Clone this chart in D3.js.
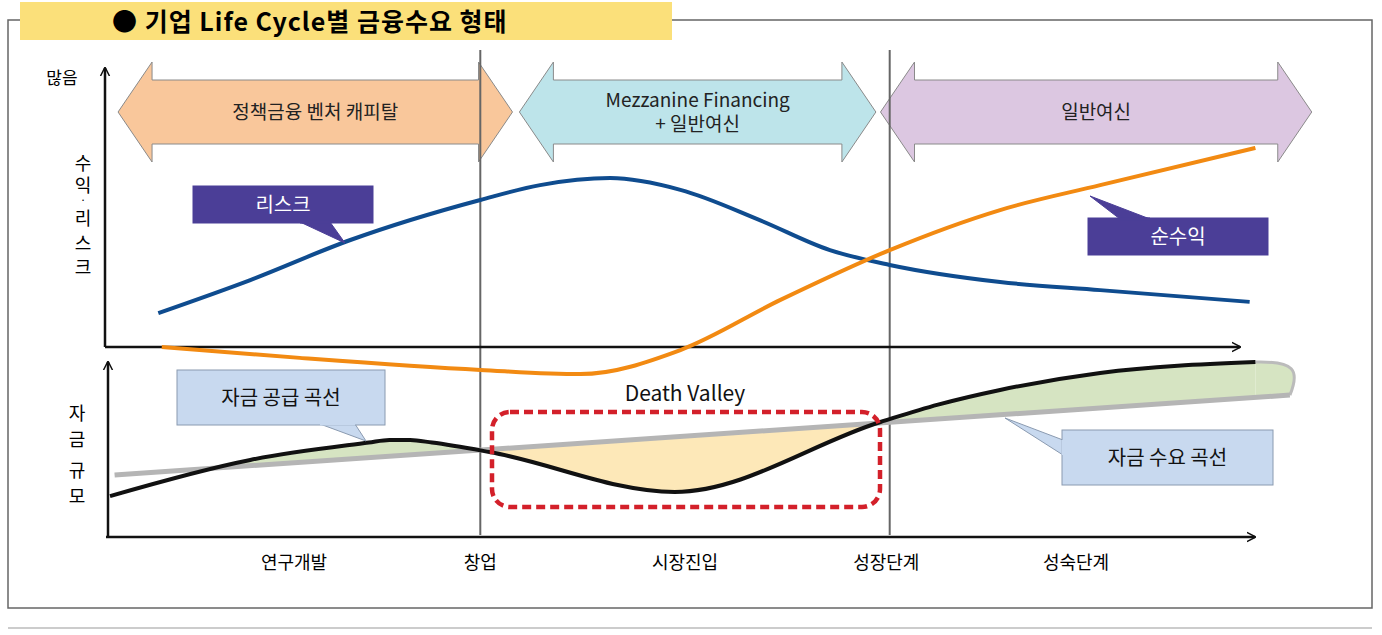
<!DOCTYPE html><html><head><meta charset="utf-8"><script src="https://cdn.jsdelivr.net/npm/d3@7"></script>
<style>body{margin:0;background:#fff}text{font-family:"Noto Sans CJK KR","Noto Sans",sans-serif}</style></head><body><svg id="c" width="1382" height="635"></svg>
<script>
// data (x: 0-100 life-cycle position; y: 0-100 relative level)
const stages=["연구개발","창업","시장진입","성장단계","성숙단계"];
const stageX=[16,32.2,50,67.5,84];
const riskX=[4.2,12.2,20.9,32.2,37.4,43.5,49.6,56.5,62.6,67.8,77.4,86.1,99.1];
const riskY=[11.4,23.2,37.5,51.8,57.1,59.6,55.4,44.6,33.9,28.6,22.5,19.6,15.4];
const profitX=[4.5,16.5,32.2,40.9,49.6,58.3,67.8,77.4,86.1,99.6];
const profitY=[-0.7,-4.6,-8.9,-10.4,-1.8,16.1,33.9,48.2,57.1,70.4];
const supplyX=[0,12.2,22.5,24.3,26.1,28,33,49.1,67,72,77.4,86.1,99.6];
const supplyY=[23.6,45.5,56,57.6,57.6,56,50.3,26.1,68.5,79,87.9,98.2,104.8];
const demandX=[0.4,102.6];
const demandY=[36.4,84.8];
const phases=["정책금융 벤처 캐피탈","Mezzanine Financing\n+ 일반여신","일반여신"];
const phaseX=[[0.7,35],[35.6,66.6],[67,104.5]];
const dividers=[32.2,67.8];

const svg=d3.select("#c");
const x=d3.scaleLinear().domain([0,100]).range([110,1260]);
const yU=d3.scaleLinear().domain([0,100]).range([345,65]);
const yL=d3.scaleLinear().domain([0,100]).range([535,370]);
const defs=svg.append("defs");
defs.append("marker").attr("id","ah").attr("viewBox","0 0 10 10").attr("refX",9).attr("refY",5).attr("markerWidth",9).attr("markerHeight",12).attr("orient","auto").attr("markerUnits","userSpaceOnUse")
 .append("path").attr("d","M0,0L10,5L0,10").attr("fill","none").attr("stroke","#111").attr("stroke-width",1.6);

// frame
svg.append("rect").attr("x",8).attr("y",20).attr("width",1364).attr("height",588).attr("fill","none").attr("stroke","#666").attr("stroke-width",1.5);
svg.append("line").attr("x1",8).attr("x2",1372).attr("y1",628).attr("y2",628).attr("stroke","#999");
svg.append("rect").attr("x",20).attr("y",2).attr("width",652).attr("height",38).attr("fill","#fbe07a");
svg.append("text").attr("x",112).attr("y",31).attr("font-size",25).attr("font-weight","bold").attr("letter-spacing",1).text("●  기업 Life Cycle별 금융수요 형태");

// phase arrows
const cols=["#f9c79b","#bde4ea","#dcc7e1"];
phaseX.forEach((p,i)=>{
 const a=x(p[0]),b=x(p[1]),h=34,t=62,bt=80,bb=144,bo=162,m=112;
 svg.append("path").attr("d",`M${a},${m}L${a+h},${t}L${a+h},${bt}L${b-h},${bt}L${b-h},${t}L${b},${m}L${b-h},${bo}L${b-h},${bb}L${a+h},${bb}L${a+h},${bo}Z`)
  .attr("fill",cols[i]).attr("stroke","#8a8a8a").attr("stroke-width",1);
 const lines=phases[i].split("\n");
 lines.forEach((l,j)=>svg.append("text").attr("x",(a+b)/2).attr("y",m+7+(j-(lines.length-1)/2)*24).attr("text-anchor","middle").attr("font-size",19).attr("fill","#222").text(l));
});
dividers.forEach(d=>svg.append("line").attr("x1",x(d)).attr("x2",x(d)).attr("y1",50).attr("y2",535).attr("stroke","#666").attr("stroke-width",2));

const ax=(x1,y1,x2,y2)=>svg.append("line").attr("x1",x1).attr("y1",y1).attr("x2",x2).attr("y2",y2).attr("stroke","#111").attr("stroke-width",2.5).attr("marker-end","url(#ah)");
ax(105,347,105,68);ax(105,347,1240,347);ax(108,537,108,362);ax(106,537,1255,537);

const line=(X,Y,ys)=>d3.line().curve(d3.curveMonotoneX).x((d,i)=>x(X[i])).y((d,i)=>ys(Y[i]))(X);
const dem=v=>demandY[0]+(v-demandX[0])*(demandY[1]-demandY[0])/(demandX[1]-demandX[0]);
const area=d3.area().curve(d3.curveMonotoneX).x((d,i)=>x(supplyX[i])).y1((d,i)=>yL(supplyY[i])).y0((d,i)=>yL(dem(supplyX[i])));
[["g1",x(9.5),x(33)],["y1",x(33),x(67.3)],["g2",x(67.3),x(100)]].forEach(([id,a,b])=>{
 defs.append("clipPath").attr("id",id).append("rect").attr("x",a).attr("y",300).attr("width",b-a).attr("height",300);
 svg.append("path").attr("d",area(supplyX)).attr("fill",id[0]=="y"?"#fde8b8":"#d6e4c2").attr("clip-path",`url(#${id})`);
});
svg.append("path").attr("d",`M${x(99.6)},${yL(104.8)} C${x(103)},${yL(105.5)} ${x(103.5)},${yL(100)} ${x(102.6)},${yL(84.8)} L${x(99.6)},${yL(dem(99.6))}Z`).attr("fill","#d6e4c2");
svg.append("path").attr("d",`M${x(99.6)},${yL(104.8)} C${x(103)},${yL(105.5)} ${x(103.5)},${yL(100)} ${x(102.6)},${yL(84.8)}`).attr("fill","none").attr("stroke","#bbb").attr("stroke-width",3);
svg.append("line").attr("x1",x(demandX[0])).attr("y1",yL(demandY[0])).attr("x2",x(demandX[1])).attr("y2",yL(demandY[1])).attr("stroke","#b5b5b5").attr("stroke-width",5);
svg.append("path").attr("d",line(supplyX,supplyY,yL)).attr("fill","none").attr("stroke","#111").attr("stroke-width",4);

svg.append("path").attr("d",line(riskX,riskY,yU)).attr("fill","none").attr("stroke","#0f4c8f").attr("stroke-width",4);
svg.append("path").attr("d",line(profitX,profitY,yU)).attr("fill","none").attr("stroke","#f28a12").attr("stroke-width",4);

svg.append("rect").attr("x",492).attr("y",412).attr("width",388).attr("height",95).attr("rx",18).attr("fill","none").attr("stroke","#d3202a").attr("stroke-width",4.5).attr("stroke-dasharray","9,5");
svg.append("text").attr("x",685).attr("y",401).attr("text-anchor","middle").attr("font-size",21).attr("fill","#111").text("Death Valley");

const call=(bx,by,bw,bh,tail,fill,stroke,txt,tc)=>{
 svg.append("path").attr("d",`M${tail[0]},${tail[1]}L${tail[2]},${tail[3]}L${tail[4]},${tail[5]}Z`).attr("fill",fill).attr("stroke",stroke);
 svg.append("rect").attr("x",bx).attr("y",by).attr("width",bw).attr("height",bh).attr("fill",fill).attr("stroke",stroke);
 svg.append("path").attr("d",`M${tail[0]},${tail[1]}L${tail[4]},${tail[5]}`).attr("stroke",fill).attr("stroke-width",3);
 svg.append("text").attr("x",bx+bw/2).attr("y",by+bh/2+7).attr("text-anchor","middle").attr("font-size",20).attr("fill",tc).text(txt);
};
call(193,186,180,37,[300,222,345,243,330,222],"#4b3e97","#4b3e97","리스크","#fff");
call(1088,218,180,37,[1120,219,1090,196,1150,219],"#4b3e97","#4b3e97","순수익","#fff");
call(177,370,208,55,[320,424,366,441,355,424],"#c8d9ef","#8a9ab0","자금 공급 곡선","#111");
call(1062,430,211,55,[1063,455,1005,418,1063,440],"#c8d9ef","#8a9ab0","자금 수요 곡선","#111");

svg.append("text").attr("x",62).attr("y",84).attr("text-anchor","middle").attr("font-size",17).text("많음");
[["수",170,18],["익",192,18],["·",204,11],["리",225,18],["스",250,18],["크",274,18]].forEach(([c,y,f])=>svg.append("text").attr("x",83).attr("y",y).attr("text-anchor","middle").attr("font-size",f).text(c));
[["자",420],["금",446],["규",477],["모",503]].forEach(([c,y])=>svg.append("text").attr("x",77).attr("y",y).attr("text-anchor","middle").attr("font-size",18).text(c));
stages.forEach((s,i)=>svg.append("text").attr("x",x(stageX[i])).attr("y",569).attr("text-anchor","middle").attr("font-size",18).text(s));
</script></body></html>
